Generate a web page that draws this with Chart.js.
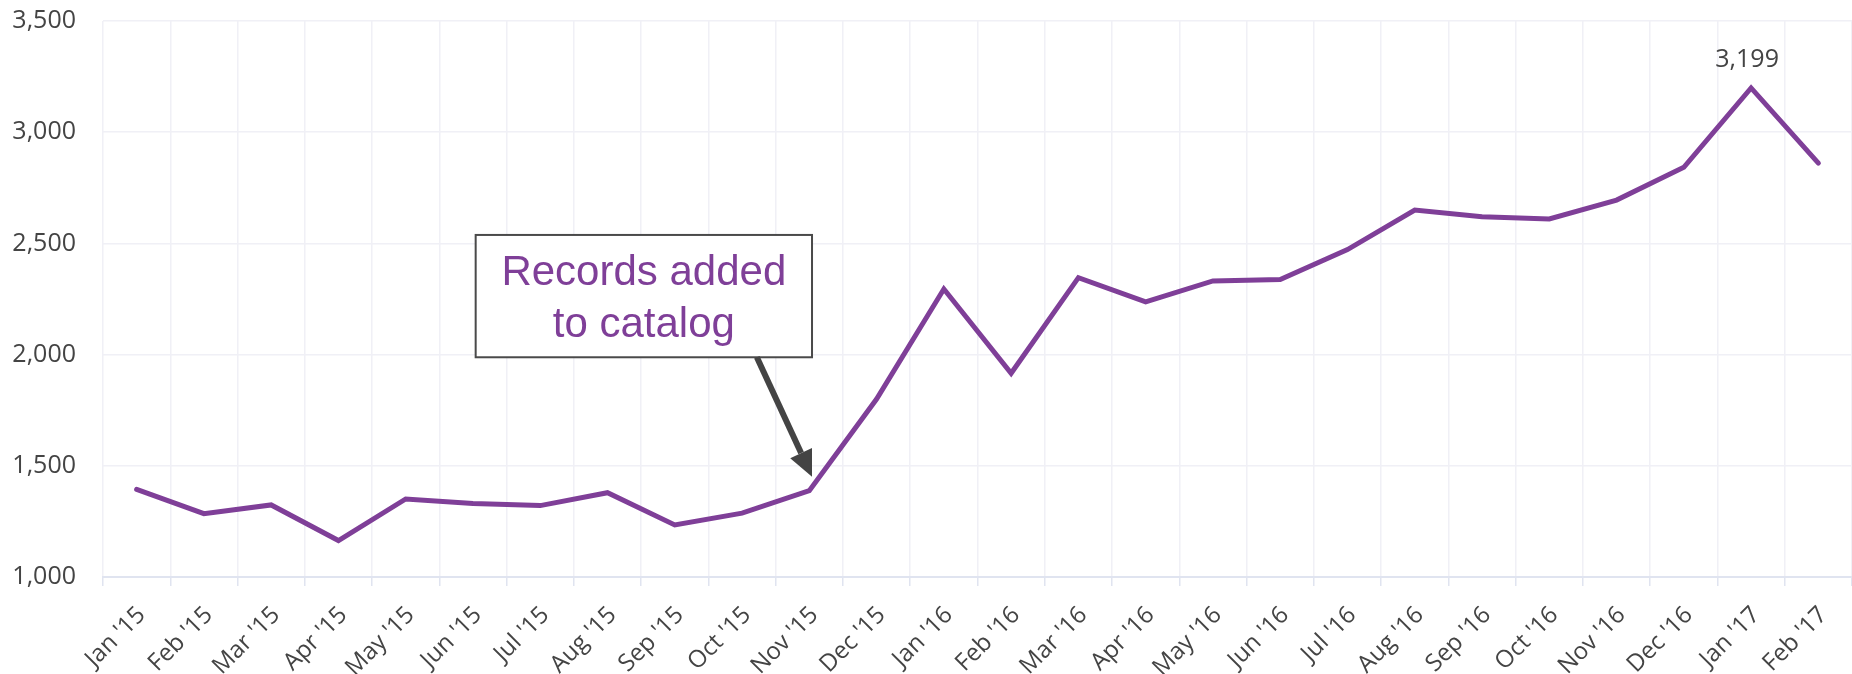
<!DOCTYPE html>
<html>
<head>
<meta charset="utf-8">
<script src="https://cdn.jsdelivr.net/npm/chart.js@4.4.1/dist/chart.umd.min.js"></script>
<style>
  html, body { margin: 0; padding: 0; background: #ffffff; }
  #wrap { width: 1852px; height: 674px; position: relative; }
</style>
</head>
<body>
<div id="wrap"><canvas id="c"></canvas></div>
<script>
// ---- data ----
const categories = ["Jan '15","Feb '15","Mar '15","Apr '15","May '15","Jun '15","Jul '15","Aug '15","Sep '15","Oct '15","Nov '15","Dec '15",
  "Jan '16","Feb '16","Mar '16","Apr '16","May '16","Jun '16","Jul '16","Aug '16","Sep '16","Oct '16","Nov '16","Dec '16",
  "Jan '17","Feb '17"];
const values = [1394, 1285, 1324, 1164, 1351, 1331, 1321, 1379, 1234, 1287, 1388, 1800,
  2295, 1916, 2346, 2237, 2331, 2338, 2472, 2650, 2620, 2610, 2695, 2842,
  3199, 2861];
const yTicks = [1000, 1500, 2000, 2500, 3000, 3500];
const annotationLines = ["Records added", "to catalog"];
const labelIndex = 24;                  // Jan '17 peak label

// annotation geometry expressed in axis units (category index, value)
const annBox = { x0: 5.04, x1: 10.04, y0: 1988, y1: 2538 };
const annArrow = { x0: 9.22, y0: 1988, x1: 10.04, y1: 1451 };

const purple = '#7f3f98';
const textGray = '#444444';

const annotationPlugin = {
  id: 'ann',
  afterDatasetsDraw(chart) {
    const ctx = chart.ctx;
    const xs = chart.scales.x, ys = chart.scales.y;
    // peak data label
    const meta = chart.getDatasetMeta(0);
    const pt = meta.data[labelIndex];
    ctx.save();
    ctx.font = '25px "Open Sans"';
    ctx.fillStyle = textGray;
    ctx.textAlign = 'center';
    ctx.textBaseline = 'alphabetic';
    ctx.fillText(values[labelIndex].toLocaleString('en-US'), pt.x - 4, pt.y - 21);
    ctx.restore();

    // annotation box
    const bx0 = xs.getPixelForValue(annBox.x0), bx1 = xs.getPixelForValue(annBox.x1);
    const by0 = ys.getPixelForValue(annBox.y1), by1 = ys.getPixelForValue(annBox.y0);
    ctx.save();
    ctx.fillStyle = '#ffffff';
    ctx.fillRect(bx0, by0, bx1 - bx0, by1 - by0);
    ctx.strokeStyle = '#4a4a4a';
    ctx.lineWidth = 2;
    ctx.strokeRect(bx0, by0, bx1 - bx0, by1 - by0);
    ctx.fillStyle = purple;
    ctx.font = '42px "Liberation Sans"';
    ctx.textAlign = 'center';
    ctx.textBaseline = 'alphabetic';
    const cx = (bx0 + bx1) / 2;
    ctx.fillText(annotationLines[0], cx, by0 + 50);
    ctx.fillText(annotationLines[1], cx, by0 + 102);
    ctx.restore();

    // arrow
    const ax0 = xs.getPixelForValue(annArrow.x0), ay0 = ys.getPixelForValue(annArrow.y0);
    const ax1 = xs.getPixelForValue(annArrow.x1), ay1 = ys.getPixelForValue(annArrow.y1);
    const ang = Math.atan2(ay1 - ay0, ax1 - ax0);
    const headLen = 26, headW = 12;
    const hx = ax1 - headLen * Math.cos(ang), hy = ay1 - headLen * Math.sin(ang);
    ctx.save();
    ctx.strokeStyle = '#444444';
    ctx.fillStyle = '#444444';
    ctx.lineWidth = 6;
    ctx.beginPath();
    ctx.moveTo(ax0, ay0);
    ctx.lineTo(hx, hy);
    ctx.stroke();
    ctx.beginPath();
    ctx.moveTo(ax1, ay1);
    ctx.lineTo(hx + headW * Math.sin(ang), hy - headW * Math.cos(ang));
    ctx.lineTo(hx - headW * Math.sin(ang), hy + headW * Math.cos(ang));
    ctx.closePath();
    ctx.fill();
    ctx.restore();
  }
};

new Chart(document.getElementById('c'), {
  type: 'line',
  data: {
    labels: categories,
    datasets: [{
      data: values,
      borderColor: purple,
      backgroundColor: purple,
      borderWidth: 5,
      pointRadius: 0,
      pointHoverRadius: 0,
      tension: 0,
      borderCapStyle: 'round',
      borderJoinStyle: 'miter',
      fill: false
    }]
  },
  options: {
    responsive: true,
    maintainAspectRatio: false,
    animation: false,
    devicePixelRatio: 1,
    layout: { padding: { top: 21, right: 0, bottom: 0, left: 0 } },
    plugins: { legend: { display: false }, tooltip: { enabled: false }, title: { display: false } },
    scales: {
      x: {
        type: 'category',
        offset: true,
        grid: { offset: true, color: '#f0f0f6', lineWidth: 1.5, drawTicks: true, tickLength: 9, tickColor: '#e0e4f0' },
        border: { display: true, color: '#e0e4f0', width: 2 },
        ticks: {
          autoSkip: false, minRotation: 45, maxRotation: 45, labelOffset: 5,
          color: textGray, font: { family: '"Open Sans"', size: 24 }, padding: 15
        },
        afterFit(scale) { scale.height = 97; scale.paddingLeft = 0; scale.paddingRight = 0; }
      },
      y: {
        min: yTicks[0], max: yTicks[yTicks.length - 1],
        afterBuildTicks(scale) { scale.ticks = yTicks.map(v => ({ value: v })); },
        grid: { color: '#f0f0f6', lineWidth: 1.5, drawTicks: false },
        border: { display: false },
        ticks: {
          color: textGray, font: { family: '"Open Sans"', size: 25 }, padding: 27,
          callback: v => Number(v).toLocaleString('en-US')
        },
        afterFit(scale) { scale.width = 103; scale.paddingTop = 0; scale.paddingBottom = 0; }
      }
    }
  },
  plugins: [annotationPlugin]
});
</script>
</body>
</html>
